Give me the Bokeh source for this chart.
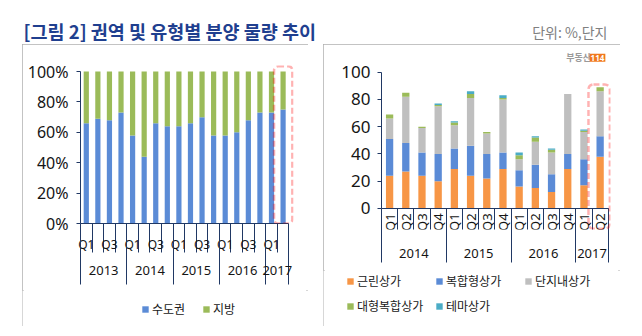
import math
from bokeh.plotting import figure
from bokeh.models import (ColumnDataSource, Range1d, LinearAxis, FixedTicker,
                          PrintfTickFormatter, Legend, LegendItem, BoxAnnotation, Label, Spacer)
from bokeh.layouts import column, row
from bokeh.core.properties import value
from bokeh.embed import file_html
from bokeh.resources import INLINE

# ---------------- data ----------------
title_text = "[그림 2] 권역 및 유형별 분양 물량 추이"
unit_text = "단위: %,단지"
logo_text = "부동산"
logo_num = "114"

quarter_names = ["Q1", "Q2", "Q3", "Q4"]

left_years = ["2013", "2014", "2015", "2016", "2017"]
left_quarter_counts = [4, 4, 4, 4, 2]
left_shown_quarters = ["Q1", "Q3"]
left_series = ["수도권", "지방"]
metro_share = [66, 69, 68, 73, 58, 44, 66, 64, 64, 66, 70, 58, 58, 60, 68, 73, 73, 75]
region_share = [34, 31, 32, 27, 42, 56, 34, 36, 36, 34, 30, 42, 42, 40, 32, 27, 27, 25]
left_y_ticks = [0, 20, 40, 60, 80, 100]

right_years = ["2014", "2015", "2016", "2017"]
right_quarter_counts = [4, 4, 4, 2]
right_shown_quarters = ["Q1", "Q2", "Q3", "Q4"]
right_series = ["근린상가", "복합형상가", "단지내상가", "대형복합상가", "테마상가"]
neighborhood = [24, 27, 24, 20, 29, 24, 22, 29, 16, 15, 12, 29, 17, 38]
mixed_use = [27, 21, 17, 20, 15, 22, 18, 12, 12, 17, 13, 11, 19, 15]
apartment = [15, 34, 18, 35, 17, 35, 15, 39, 8, 17, 16, 44, 20, 33]
large_mall = [3, 3, 1, 1, 2, 3, 1, 1, 3, 3, 2, 0, 1, 3]
theme_mall = [0, 0, 0, 1, 1, 2, 0, 2, 2, 1, 1, 0, 1, 0]
right_y_ticks = [0, 20, 40, 60, 80, 100]

# ---------------- style ----------------
NAVY = "#203864"
BLUE = "#5B8BD6"
GREEN = "#9BBB59"
ORANGE = "#F79646"
GRAY = "#BFBFBF"
TEAL = "#4BACC6"
LATIN = "Noto Sans"
KR = "Noto Sans CJK KR"
BOX_STYLE = {"outline": "2px solid #AFAFAF", "outline-offset": "-2px"}


def build_factors(years, counts):
    out = []
    for y, c in zip(years, counts):
        for q in quarter_names[:c]:
            out.append((y, q))
    return out


def make_chart(w, h, borders, factors, years, counts, cols, data, colors, shown_q,
               x_end, y_lo, y_hi, q_size, q_angle, q_standoff, q_sep, fixed,
               yr_standoff, yr_in, yr_out, y_ticks, y_fmt, y_size, y_standoff):
    n = len(factors)
    p = figure(width=w, height=h, toolbar_location=None, output_backend="svg",
               x_range=Range1d(0, x_end), y_range=Range1d(y_lo, y_hi), x_axis_location=None,
               min_border_left=borders[0], min_border_right=borders[1],
               min_border_top=borders[2], min_border_bottom=borders[3],
               outline_line_color=None, border_fill_color="white",
               background_fill_color="white")
    p.grid.grid_line_color = None

    ya = p.yaxis[0]
    ya.ticker = FixedTicker(ticks=y_ticks)
    ya.formatter = PrintfTickFormatter(format=y_fmt)
    ya.bounds = (y_ticks[0], y_ticks[-1])
    ya.axis_line_color = NAVY
    ya.major_tick_line_color = NAVY
    ya.major_tick_out = 4
    ya.major_tick_in = 0
    ya.minor_tick_line_color = None
    ya.major_label_text_font = LATIN
    ya.major_label_text_font_size = y_size
    ya.major_label_text_color = "#151515"
    ya.major_label_standoff = y_standoff

    xpos = [i + 0.5 for i in range(n)]
    src = ColumnDataSource(dict(x=xpos, **{c: d for c, d in zip(cols, data)}))
    rs = p.vbar_stack(cols, x="x", width=0.45, fill_color=colors, line_color=None, source=src)

    centers = [xpos[i] for i, f in enumerate(factors) if f[1] in shown_q]
    overrides = {xpos[i]: f[1] for i, f in enumerate(factors) if f[1] in shown_q}
    inner = LinearAxis(ticker=FixedTicker(ticks=centers, minor_ticks=[float(i) for i in range(n + 1)]),
                       major_label_overrides=overrides, bounds=(0, n),
                       major_tick_in=0, major_tick_out=0, major_tick_line_color=None,
                       minor_tick_in=0, minor_tick_out=q_sep, minor_tick_line_color=NAVY,
                       axis_line_color=NAVY, major_label_standoff=q_standoff,
                       major_label_orientation=q_angle,
                       major_label_text_font=LATIN, major_label_text_font_size=q_size,
                       major_label_text_color="#151515")
    if fixed is not None:
        inner.fixed_location = fixed
    bounds = [0]
    for c in counts:
        bounds.append(bounds[-1] + c)
    ycent = [(bounds[i] + bounds[i + 1]) / 2.0 for i in range(len(years))]
    outer = LinearAxis(ticker=FixedTicker(ticks=ycent, minor_ticks=[float(b) for b in bounds]),
                       major_label_overrides={c: y for c, y in zip(ycent, years)},
                       major_tick_in=0, major_tick_out=0, major_tick_line_color=None,
                       minor_tick_in=yr_in, minor_tick_out=yr_out, minor_tick_line_color=NAVY,
                       axis_line_color=None, major_label_standoff=yr_standoff,
                       major_label_text_font=LATIN, major_label_text_font_size="13px",
                       major_label_text_color="#151515")
    p.add_layout(inner, "below")
    p.add_layout(outer, "below")
    return p, rs


def make_legend_fig(w, h, rows, colors_by_label, spacing, label_width):
    lp = figure(width=w, height=h, x_range=Range1d(0, w), y_range=Range1d(0, h),
                toolbar_location=None, output_backend="svg", min_border=0,
                x_axis_location=None, y_axis_location=None, outline_line_color=None,
                border_fill_color="white", background_fill_color="white")
    lp.grid.visible = False
    for labels, vx, vy in rows:
        items = []
        for lab in labels:
            # legend swatch only: one zero-height bar placed outside the visible range
            r = lp.vbar(x=[-w], top=[0], width=1, fill_color=colors_by_label[lab], line_color=None)
            items.append(LegendItem(label=lab, renderers=[r]))
        lp.add_layout(Legend(items=items, location=(vx, vy), orientation="horizontal",
                             padding=0, margin=0, spacing=spacing, glyph_width=8, glyph_height=8,
                             label_height=16, label_width=label_width, label_standoff=3,
                             label_text_font=KR, label_text_font_size="12px",
                             label_text_color="#202020", background_fill_alpha=0,
                             border_line_color=None))
    return lp


# ---------------- header ----------------
hdr = figure(width=642, height=44, x_range=Range1d(0, 642), y_range=Range1d(44, 0),
             toolbar_location=None, output_backend="svg", min_border=0,
             x_axis_location=None, y_axis_location=None, outline_line_color=None)
hdr.grid.visible = False
hdr.text(x=[23], y=[30], text=[title_text], text_font=value(KR), text_font_style="bold",
         text_font_size="18.5px", text_baseline="middle", text_align="left", text_color="#1F3F8F")
hdr.text(x=[607], y=[31], text=[unit_text], text_font=value(KR), text_font_size="14px",
         text_baseline="middle", text_align="right", text_color="#808080")

# ---------------- left chart ----------------
lf = build_factors(left_years, left_quarter_counts)
nl = len(lf)
left, lrs = make_chart(286, 246, (58, 15, 21, 67), lf, left_years, left_quarter_counts,
                       ["metro", "region"], [metro_share, region_share], [BLUE, GREEN],
                       left_shown_quarters, nl + 0.4, 0, 104,
                       "12px", "horizontal", -17, 29, None, -19, 28, 29,
                       left_y_ticks, "%d%%", "16px", 8)
left.add_layout(BoxAnnotation(left=nl - 1.28, right=nl + 0.3, bottom=0, top=103.5,
                              fill_alpha=0, line_color="#FF0000",
                              line_width=2.5, line_dash="6 3", border_radius=4))
left_leg = make_legend_fig(286, 36, [(left_series, 119, 9)],
                           dict(zip(left_series, [BLUE, GREEN])), 14, 36)
left_panel = column(row(left), row(left_leg), styles=BOX_STYLE)

# ---------------- right chart ----------------
rf = build_factors(right_years, right_quarter_counts)
nr = len(rf)
right, rrs = make_chart(297, 226, (58, 10, 7, 41), rf, right_years, right_quarter_counts,
                        ["near", "mixed", "apt", "large", "theme"],
                        [neighborhood, mixed_use, apartment, large_mall, theme_mall],
                        [ORANGE, BLUE, GRAY, GREEN, TEAL],
                        right_shown_quarters, nr + 0.14, -15.5, 115.2,
                        "13px", math.pi / 2, -20, 25, 0, -14, 21, 33,
                        right_y_ticks, "%d", "17px", 7)
right.add_layout(BoxAnnotation(left=nr - 1.22, right=nr + 0.1, bottom=-15, top=91,
                               fill_alpha=0, line_color="#FF0000",
                               line_width=2.5, line_dash="6 3", border_radius=5))
right.add_layout(Label(x=11.4, y=110.6, text=logo_text, text_font=KR,
                       text_font_size="9px", text_font_style="bold", text_color="#9A9A9A",
                       text_baseline="middle"))
right.add_layout(Label(x=12.85, y=110.6, text=logo_num, text_font=LATIN,
                       text_font_size="8px", text_font_style="bold", text_color="white",
                       text_baseline="middle", background_fill_color="#F0781E", padding=1))
right_leg = make_legend_fig(297, 56, [(right_series[:3], 23, 37), (right_series[3:], 23, 12)],
                            dict(zip(right_series, [ORANGE, BLUE, GRAY, GREEN, TEAL])), 6, 72)
right_panel = column(row(right), row(right_leg), styles=BOX_STYLE)

layout = column(hdr, row(Spacer(width=22, height=282), left_panel,
                         Spacer(width=15, height=282), right_panel))
open("out.html", "w").write(file_html(layout, INLINE))
